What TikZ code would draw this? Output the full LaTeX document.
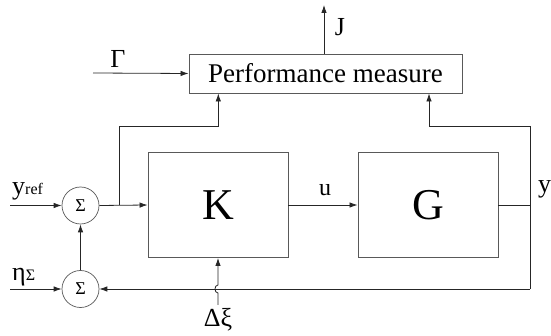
\documentclass[tikz,border=0pt]{standalone}
\usepackage{fontspec}
\setmainfont{Liberation Serif}
\usetikzlibrary{arrows.meta}
\begin{document}
\begin{tikzpicture}[x=1pt,y=-1pt,
  blk/.style={draw=black!65,line width=0.9pt,inner sep=0pt},
  sumnode/.style={circle,draw=black!65,line width=0.7pt,minimum size=37pt,inner sep=0pt,font=\fontsize{18}{18}\selectfont},
  wire/.style={draw=black!85,line width=0.8pt},
  arr/.style={wire,-{Latex[length=8pt,width=5.5pt]}},
  lbl/.style={inner sep=0pt,font=\fontsize{26}{26}\selectfont}]
\useasboundingbox (0,0) rectangle (551,336);
% blocks
\node[blk,minimum width=273pt,minimum height=39pt,font=\fontsize{27}{27}\selectfont] (P) at (325.5,73.5) {Performance measure};
\node[blk,minimum width=140pt,minimum height=105pt,font=\fontsize{44}{44}\selectfont] (K) at (218,205) {K};
\node[blk,minimum width=140pt,minimum height=105pt,font=\fontsize{44}{44}\selectfont] (G) at (428,205) {G};
\node[sumnode] (S1) at (80.5,205.5) {Σ};
\node[sumnode] (S2) at (80.5,289) {Σ};
% coordinates
\coordinate (yin) at (10,205.5);
\coordinate (ein) at (10,289);
\coordinate (gin) at (93,73);
\coordinate (jout) at (324,5);
\coordinate (br) at (119,205.5);
\coordinate (brt) at (119,126);
\coordinate (pin1) at (218.3,126);
\coordinate (gout) at (498,205);
\coordinate (fb) at (530,205);
\coordinate (fbt) at (530,126);
\coordinate (fbb) at (530,289);
\coordinate (pin2) at (429,126);
\coordinate (dx) at (218,305);
% labels
\node[lbl] (Jl) at (340,27) {J};
\node[lbl] (Gl) at (118,59) {Γ};
\node[lbl,font=\fontsize{24}{24}\selectfont] (ul) at (325,190) {u};
\node[lbl,anchor=base west] (yrl) at (12,195) {y\fontsize{16}{16}\selectfont ref};
\node[lbl,anchor=base west] (etal) at (12,281) {η\fontsize{16}{16}\selectfont Σ};
\node[lbl,anchor=base west] (yl) at (538,193) {y};
\node[lbl] (dxl) at (218,320) {Δξ};
% connectors
\draw[arr] (yin) -- (S1.west);
\draw[arr] (ein) -- (S2.west);
\draw[arr] (S2.north) -- (S1.south);
\draw[arr] (S1.east) -- (K.west);
\draw[arr] (br) -- (brt) -- (pin1) -- (pin1 |- P.south);
\draw[arr] (gin) -- (P.west);
\draw[arr] (P.north -| jout) -- (jout);
\draw[arr] (K.east) -- (G.west);
\draw[wire] (gout) -- (fb);
\draw[wire] (fbt) -- (fbb);
\draw[arr] (fbt) -- (pin2) -- (pin2 |- P.south);
\draw[arr] (fbb) -- (S2.east);
\draw[arr] (dx) -- (218,293) .. controls (214,293) and (214,285) .. (218,285) -- (K.south);
\end{tikzpicture}
\end{document}
